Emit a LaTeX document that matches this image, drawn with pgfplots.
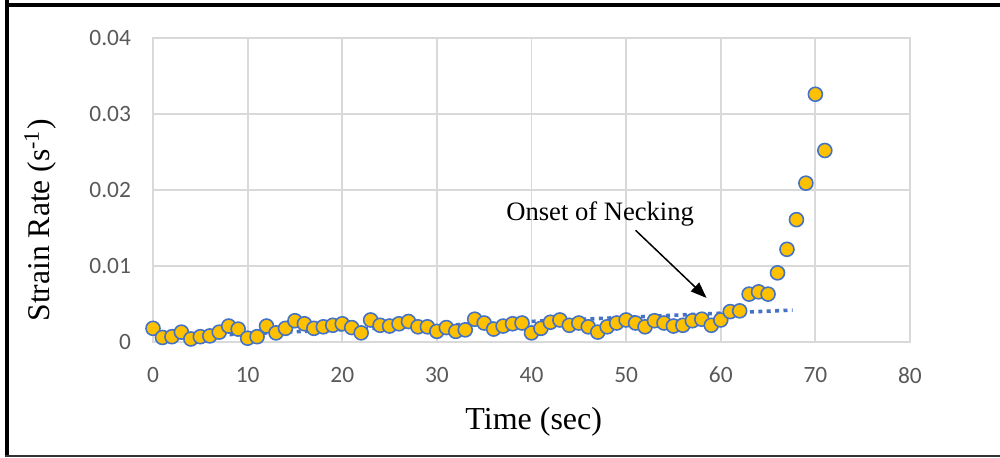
\documentclass[border=0pt]{standalone}
\usepackage{pgfplots}
\pgfplotsset{compat=1.18}
\usepackage{fontspec}
\setmainfont{Liberation Serif}
\newfontfamily\calibri{Carlito}
\usetikzlibrary{arrows.meta}
\definecolor{gold}{HTML}{FFC000}
\definecolor{mblue}{HTML}{4472C4}
\definecolor{gridc}{HTML}{D9D9D9}
\definecolor{tickc}{HTML}{595959}
\pgfplotstableread{
t v
0 0.0018
1 0.0006
2 0.0007
3 0.0013
4 0.0004
5 0.0007
6 0.0008
7 0.0013
8 0.0021
9 0.0017
10 0.0005
11 0.0007
12 0.0021
13 0.0012
14 0.0018
15 0.0028
16 0.0024
17 0.0018
18 0.0020
19 0.0022
20 0.0024
21 0.0019
22 0.0012
23 0.0029
24 0.0022
25 0.0021
26 0.0024
27 0.0027
28 0.0020
29 0.0020
30 0.0014
31 0.0019
32 0.0014
33 0.0016
34 0.0030
35 0.0025
36 0.0017
37 0.0021
38 0.0024
39 0.0025
40 0.0012
41 0.0018
42 0.0026
43 0.0029
44 0.0022
45 0.0025
46 0.0020
47 0.0013
48 0.0020
49 0.0025
50 0.0029
51 0.0025
52 0.0020
53 0.0028
54 0.0025
55 0.0021
56 0.0022
57 0.0028
58 0.0030
59 0.0022
60 0.0029
61 0.0040
62 0.0041
63 0.0063
64 0.0066
65 0.0063
66 0.0091
67 0.0122
68 0.0161
69 0.0209
70 0.0326
71 0.0252
}\datatable
\begin{document}
\begin{tikzpicture}
\begin{axis}[
  at={(76.5pt,57.5pt)}, anchor=south west,
  scale only axis, width=378.5pt, height=152pt,
  xmin=0, xmax=80, ymin=0, ymax=0.04,
  xtick={0,10,...,80}, ytick={0,0.01,0.02,0.03,0.04},
  yticklabels={0,0.01,0.02,0.03,0.04},
  scaled y ticks=false,
  /pgf/number format/assume math mode=true,
  grid=major, major grid style={gridc, line width=0.9pt},
  axis line style={gridc, line width=0.9pt},
  major tick length=0pt,
  tick label style={font=\calibri\fontsize{11.7}{13}\selectfont, text=tickc},
  yticklabel style={xshift=-7.5pt},
  xticklabel style={yshift=-9pt},
  xlabel={Time (sec)},
  xlabel style={font=\fontsize{16}{18}\selectfont, at={(axis description cs:0.503,-0.263)}, anchor=center},
  ylabel={Strain Rate (s\textsuperscript{-1})},
  ylabel style={font=\fontsize{15.8}{18}\selectfont, at={(axis description cs:-0.149,0.40)}, anchor=center, rotate=0},
  clip=false,
]
\addplot[mblue, line width=1.8pt, dash pattern=on 2pt off 2.2pt] coordinates {(1,0.0006) (67.6,0.0042)};
\addplot[only marks, mark=*, mark size=3.5pt, mark options={fill=gold, draw=mblue, line width=0.8pt}] table[x=t,y=v] {\datatable};
\node[anchor=base west, font=\fontsize{13.3}{16}\selectfont, inner sep=0pt] at (axis cs:37.3,0.01605) {Onset of Necking};
\draw[line width=0.75pt, -{Triangle[length=8pt, width=6pt]}] (axis cs:51.0,0.0147) -- (axis cs:58.5,0.0058);
\end{axis}
\draw[black, line width=2pt] (3.5pt,0) -- (3.5pt,228.5pt);
\draw[black, line width=2pt] (2.5pt,226pt) -- (500pt,226pt);
\draw[black!80, line width=1pt] (2.5pt,0.5pt) -- (500pt,0.5pt);
\pgfresetboundingbox
\useasboundingbox (0,0) rectangle (500pt,228.5pt);
\end{tikzpicture}
\end{document}
